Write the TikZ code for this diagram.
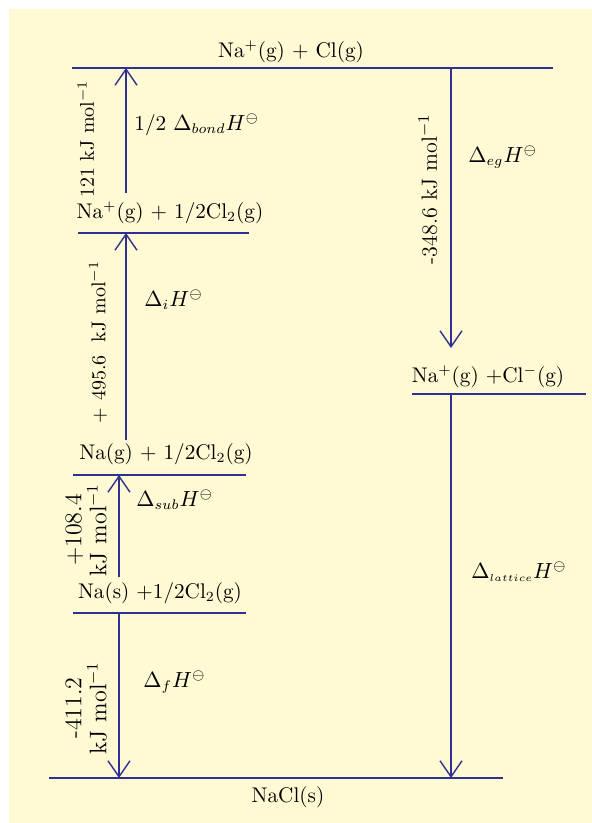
\documentclass[tikz,border=0pt]{standalone}
\usetikzlibrary{arrows.meta, positioning}
\definecolor{cyclenavy}{RGB}{46,49,145}
\definecolor{cyclecream}{RGB}{255,250,212}

\begin{document}
\begin{tikzpicture}[x=0.5pt, y=-0.5pt,
  level/.style={draw=cyclenavy, line width=0.7pt},
  arr/.style={-{Straight Barb[length=8pt, width=11pt, line width=0.7pt]}, draw=cyclenavy, line width=0.7pt},
  spc/.style={inner sep=1pt, font=\fontsize{10.6}{12.7}\selectfont},
  enth/.style={inner sep=1pt, anchor=west, font=\fontsize{10.6}{12.7}\selectfont},
  val/.style={rotate=90, inner sep=1pt, align=center, font=\normalsize},
  val2/.style={rotate=90, inner sep=1pt, align=center, font=\fontsize{12}{12.5}\selectfont}
]
  \useasboundingbox (0,0) rectangle (592,823);
  \fill[cyclecream] (9,9) rectangle (592,823);

  % energy levels
  \coordinate (top-l) at (72,68);   \coordinate (top-r) at (553,68);
  \coordinate (ion-l) at (78,233);  \coordinate (ion-r) at (249,233);
  \coordinate (gas-l) at (73,475);  \coordinate (gas-r) at (246,475);
  \coordinate (sol-l) at (73,613);  \coordinate (sol-r) at (246,613);
  \coordinate (nacl-l) at (49,778); \coordinate (nacl-r) at (503,778);
  \coordinate (pair-l) at (412,394); \coordinate (pair-r) at (586,394);

  \draw[level] (top-l) -- (top-r);
  \draw[level] (ion-l) -- (ion-r);
  \draw[level] (gas-l) -- (gas-r);
  \draw[level] (sol-l) -- (sol-r);
  \draw[level] (nacl-l) -- (nacl-r);
  \draw[level] (pair-l) -- (pair-r);

  \node[spc] (top) at (291,52) {Na$^{+}$(g) + Cl(g)};
  \node[spc] (ion) at (170,213) {Na$^{+}$(g) + 1/2Cl$_2$(g)};
  \node[spc] (gas) at (166,454) {Na(g) + 1/2Cl$_2$(g)};
  \node[spc] (sol) at (160,593) {Na(s) +1/2Cl$_2$(g)};
  \node[spc] (nacl) at (288,797) {NaCl(s)};
  \node[spc] (pair) at (488,377) {Na$^{+}$(g) +Cl$^{-}$(g)};

  % arrow ends
  \coordinate (bond-s) at (126,193); \coordinate (bond-e) at (126,68);
  \coordinate (ie-s) at (126,440);   \coordinate (ie-e) at (126,233);
  \coordinate (sub-s) at (119,577);  \coordinate (sub-e) at (119,475);
  \coordinate (f-s) at (119,613);    \coordinate (f-e) at (119,778);
  \coordinate (eg-s) at (451,68);    \coordinate (eg-e) at (451,348);
  \coordinate (lat-s) at (451,394);  \coordinate (lat-e) at (451,778);

  \draw[arr] (bond-s) -- (bond-e);
  \draw[arr] (ie-s) -- (ie-e);
  \draw[arr] (sub-s) -- (sub-e);
  \draw[arr] (f-s) -- (f-e);
  \draw[arr] (eg-s) -- (eg-e);
  \draw[arr] (lat-s) -- (lat-e);

  % enthalpy labels
  \node[enth] (bondh) at (132,125) {1/2 $\Delta_{bond}H^{\ominus}$};
  \node[enth] (ieh) at (142,300) {$\Delta_{i}H^{\ominus}$};
  \node[enth] (subh) at (134,500) {$\Delta_{sub}H^{\ominus}$};
  \node[enth] (fh) at (141,682) {$\Delta_{f}H^{\ominus}$};
  \node[enth] (egh) at (466,157) {$\Delta_{eg}H^{\ominus}$};
  \node[enth] (lath) at (469,572) {$\Delta_{\scriptscriptstyle lattice}H^{\ominus}$};

  \node[val] (bondv) at (86,139) {121 kJ mol$^{-1}$};
  \node[val] (iev) at (98,342) {+ 495.6 \ kJ mol$^{-1}$};
  \node[val2] (subv) at (86,530) {+108.4\\kJ mol$^{-1}$};
  \node[val2] (fv) at (86,708) {-411.2\\kJ mol$^{-1}$};
  \node[val] (egv) at (428,189) {\fontsize{11}{13}\selectfont -348.6 kJ mol$^{-1}$};
\end{tikzpicture}
\end{document}
